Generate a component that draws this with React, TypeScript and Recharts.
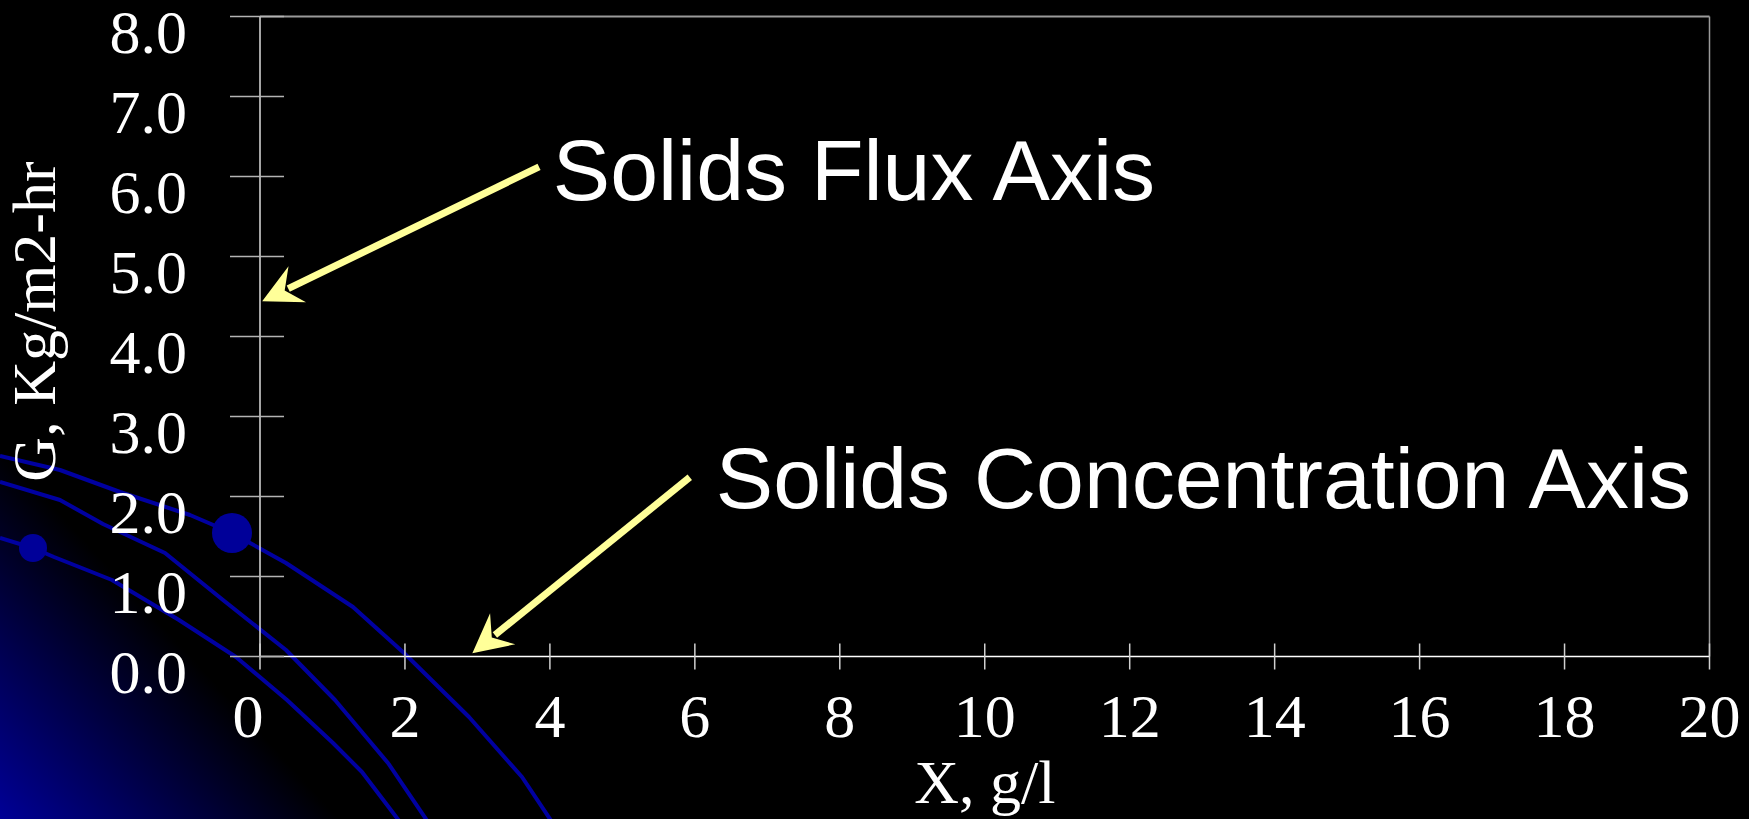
import { ComposedChart, Scatter, XAxis, YAxis, ReferenceLine, ReferenceDot } from 'recharts';

const xTicks = [0, 2, 4, 6, 8, 10, 12, 14, 16, 18, 20];
const yTicks = [0, 1, 2, 3, 4, 5, 6, 7, 8];

// callout text anchors (left end of baseline), in axis units
const calloutText = ['Solids Flux Axis', 'Solids Concentration Axis'];
const calloutX = [4.04, 6.29];
const calloutY = [5.71, 1.86];

// arrows run from the callout to the axis they point at
const arrowFromX = [3.85, 5.93];
const arrowFromY = [6.12, 2.24];
const arrowToX = [0.03, 2.93];
const arrowToY = [4.44, 0.04];

const SERIF = "'Liberation Serif', 'Times New Roman', serif";
const SANS = "'Liberation Sans', Arial, sans-serif";
const ARROW = '#FFFF99';

// the plot carries no series of its own; the arrow tips keep the axes populated
const anchorPoints = arrowToX.map((x, i) => ({ x, y: arrowToY[i] }));

function YTick(props: any) {
  const { x, y, payload } = props;
  return (
    <g>
      <line x1={x - 30} x2={x + 24} y1={y} y2={y} stroke="#b4b4b4" strokeWidth={1.5} />
      <text x={x - 73} y={y + 36} textAnchor="end" fill="#fff" fontSize={62} fontFamily={SERIF}>
        {Number(payload.value).toFixed(1)}
      </text>
    </g>
  );
}

function XTick(props: any) {
  const { x, y, payload } = props;
  const shift = payload.value === 0 ? -12 : 0;
  return (
    <g>
      <line x1={x} x2={x} y1={y - 13} y2={y + 13} stroke="#d0d0d0" strokeWidth={1.5} />
      <text x={x + shift} y={y + 80} textAnchor="middle" fill="#fff" fontSize={62} fontFamily={SERIF}>
        {payload.value}
      </text>
    </g>
  );
}

function CalloutArrow(props: any) {
  const { x1, y1, x2, y2 } = props;
  const dx = x1 - x2;
  const dy = y1 - y2;
  const len = Math.hypot(dx, dy) || 1;
  const ux = dx / len;
  const uy = dy / len;
  const px = -uy;
  const py = ux;
  const head = 39;
  const half = 20;
  const notch = 25;
  const bx = x2 + ux * head;
  const by = y2 + uy * head;
  const nx = x2 + ux * notch;
  const ny = y2 + uy * notch;
  const pts = [
    [x2, y2],
    [bx + px * half, by + py * half],
    [nx, ny],
    [bx - px * half, by - py * half],
  ]
    .map((p) => p.join(','))
    .join(' ');
  return (
    <g>
      <line x1={x1} y1={y1} x2={nx + ux * 4} y2={ny + uy * 4} stroke={ARROW} strokeWidth={7} />
      <polygon points={pts} fill={ARROW} />
    </g>
  );
}

function Backdrop() {
  return (
    <svg width={1749} height={819} style={{ position: 'absolute', left: 0, top: 0 }}>
      <defs>
        <linearGradient id="corner" gradientUnits="userSpaceOnUse" x1={0} y1={819} x2={185} y2={650}>
          <stop offset="0" stopColor="#000096" />
          <stop offset="1" stopColor="#000000" />
        </linearGradient>
      </defs>
      <rect width={1749} height={819} fill="url(#corner)" />
      <g fill="none" stroke="#0000a0" strokeWidth={4} strokeLinejoin="round">
        <polyline points="0,456 60,470 120,492 190,515 232,533 286,563 353,607 404,653 469,717 522,777 552,822" />
        <polyline points="0,482 60,500 103,524 165,553 223,600 286,650 335,700 388,763 428,822" />
        <polyline points="0,538 33,548 54,557 112,580 179,620 236,657 287,700 333,743 362,772 400,822" />
      </g>
      <circle cx={232} cy={533} r={20} fill="#000099" />
      <circle cx={33} cy={548} r={14} fill="#000099" />
    </svg>
  );
}

export default function App() {
  return (
    <div
      style={{
        position: 'absolute',
        left: 0,
        top: 0,
        width: 1749,
        height: 819,
        background: '#000',
        overflow: 'hidden',
      }}
    >
      <Backdrop />
      <div style={{ position: 'absolute', left: 0, top: 0 }}>
        <ComposedChart width={1749} height={819} margin={{ top: 16.5, right: 39.5, bottom: 0, left: 0 }}>
          <ReferenceLine y={8} stroke="#9a9a9a" strokeWidth={2} />
          <ReferenceLine x={20} stroke="#9a9a9a" strokeWidth={1.5} />
          <XAxis
            type="number"
            dataKey="x"
            domain={[0, 20]}
            ticks={xTicks}
            interval={0}
            height={162.5}
            tickSize={0}
            tickMargin={0}
            axisLine={{ stroke: '#ffffff', strokeWidth: 1.5 }}
            tickLine={false}
            tick={<XTick />}
            label={{
              content: (p: any) => {
                const vb = p.viewBox;
                return (
                  <text x={vb.x + vb.width / 2} y={vb.y + 146} textAnchor="middle" fill="#fff" fontSize={62} fontFamily={SERIF}>
                    X, g/l
                  </text>
                );
              },
            }}
          />
          <YAxis
            type="number"
            dataKey="y"
            domain={[0, 8]}
            ticks={yTicks}
            interval={0}
            width={260}
            tickSize={0}
            tickMargin={0}
            axisLine={{ stroke: '#dcdcdc', strokeWidth: 1.5 }}
            tickLine={false}
            tick={<YTick />}
            label={{
              content: (p: any) => {
                const vb = p.viewBox;
                const cx = vb.x + 55;
                const cy = vb.y + vb.height / 2 - 15;
                return (
                  <text
                    x={cx}
                    y={cy}
                    transform={`rotate(-90 ${cx} ${cy})`}
                    textAnchor="middle"
                    fill="#fff"
                    fontSize={62}
                    fontFamily={SERIF}
                  >
                    G, Kg/m2-hr
                  </text>
                );
              },
            }}
          />
          <Scatter data={anchorPoints} dataKey="y" shape={() => <g />} isAnimationActive={false} />
          {arrowFromX.map((fx, i) => (
            <ReferenceLine
              key={`arrow-${i}`}
              segment={[
                { x: fx, y: arrowFromY[i] },
                { x: arrowToX[i], y: arrowToY[i] },
              ]}
              shape={(p: any) => <CalloutArrow {...p} />}
            />
          ))}
          {calloutText.map((t, i) => (
            <ReferenceDot
              key={`callout-${i}`}
              x={calloutX[i]}
              y={calloutY[i]}
              r={0}
              shape={(p: any) => (
                <text x={p.cx} y={p.cy} fill="#fff" fontSize={86} fontFamily={SANS}>
                  {t}
                </text>
              )}
            />
          ))}
        </ComposedChart>
      </div>
    </div>
  );
}
